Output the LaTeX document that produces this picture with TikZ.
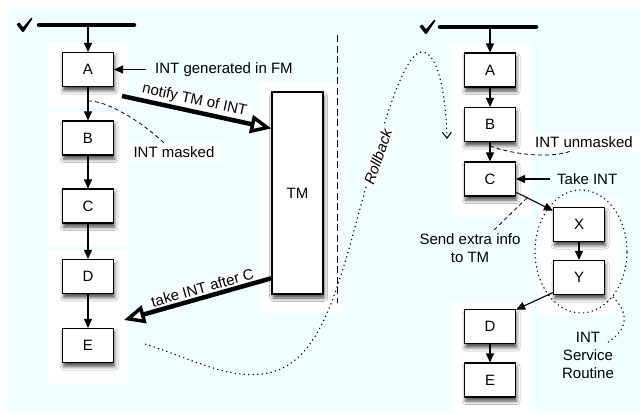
\documentclass[tikz,border=0pt]{standalone}
\usepackage{fontspec}
\setmainfont{Liberation Sans}
\usetikzlibrary{arrows.meta,shadows.blur,shapes.geometric,calc}
\definecolor{sky}{RGB}{240,255,255}
\begin{document}
\begin{tikzpicture}[x=1pt, y=-1pt,
  every node/.style={font=\fontsize{15}{18}\selectfont},
  panel/.style={fill=white, draw=none},
  stepbox/.style={draw=black, fill=white, line width=1.1pt, minimum width=51pt,
    minimum height=34pt, inner sep=0pt,
    blur shadow={shadow xshift=1.2pt, shadow yshift=-4pt,
      shadow blur radius=3.5pt, shadow opacity=70}},
  flow/.style={line width=1.1pt, -{Triangle[length=9pt, width=8pt]}},
  fat/.style={line width=4.5pt},
  openhead/.tip={Triangle[length=21pt, width=18pt, fill=white, line width=3.5pt]},
  dashline/.style={line width=0.8pt, dash pattern=on 4pt off 3pt},
  dotline/.style={line width=1.1pt, dash pattern=on 1.2pt off 3.3pt},
  divider/.style={line width=1pt, dash pattern=on 7pt off 3.5pt},
  bar/.style={line width=4.5pt, line cap=round},
  tag/.style={fill=white, inner xsep=6pt, inner ysep=3pt},
  slopetag/.style={fill=white, inner xsep=3pt, inner ysep=1pt},
  note/.style={inner sep=2pt},
  checkmark/.pic={\fill[rounded corners=0.6pt] (16.5,24.5) -- (19.2,22.3) -- (23,27.3)
      -- (31.4,17.5) -- (32.6,18.6) -- (23.6,32) -- (22.4,32) -- cycle;}
]
\useasboundingbox (0,0) rectangle (640,413);

% backdrop and white panels
\fill[sky] (7,9) rectangle (640,412);
\fill[panel] (48,42) rectangle (127,107);
\fill[panel] (48,112) rectangle (127,245);
\fill[panel] (48,250) rectangle (127,383);
\fill[panel] (258,82) rectangle (340,313);
\fill[panel] (450,44) rectangle (531,217);
\fill[panel] (538,199) rectangle (620,315);
\fill[panel] (450,302) rectangle (531,412);

% divider between the two runs
\draw[divider] (337,35) -- (337,303);

% rollback path
\coordinate (rbs) at (145,344);
\coordinate (rbe) at (447,139);
\draw[dotline, -{Straight Barb[length=6pt, width=9pt, line width=1pt]}]
  (rbs) .. controls (195,360) and (225,378) .. (262,374)
        .. controls (300,370) and (322,335) .. (340,278)
        .. controls (360,220) and (395,52) .. (422,52)
        .. controls (438,52) and (446,95) .. (rbe);
\node[slopetag, inner ysep=2pt, rotate=71] (rbl) at (378,157) {\itshape Rollback};

% first run
\pic at (0,0) {checkmark};
\coordinate (lbarL) at (39,25);
\coordinate (lbarR) at (134,25);
\coordinate (lbarM) at (88,25);
\draw[bar] (lbarL) -- (lbarR);

\node[stepbox] (la) at (88,69.5) {A};
\node[stepbox] (lb) at (88,138) {B};
\node[stepbox] (lc) at (88,206) {C};
\node[stepbox] (ld) at (88,276.5) {D};
\node[stepbox] (le) at (88,345.5) {E};
\node[stepbox, minimum height=202pt] (tm) at (297.5,193) {TM};

\draw[flow] (lbarM) -- (la);
\draw[flow] (la) -- (lb);
\draw[flow] (lb) -- (lc);
\draw[flow] (lc) -- (ld);
\draw[flow] (ld) -- (le);

\node[note, anchor=west, inner xsep=9pt] (gen) at (146,69.5) {INT generated in FM};
\draw[flow] (gen.west) -- (la.east);

\node[tag] (masked) at (174,152) {INT masked};
\coordinate (maskpt) at (88,101);
\draw[dashline] (maskpt) .. controls (105,100) and (140,120) .. (masked.138);

\coordinate (nstart) at (122,96);
\draw[fat, -openhead] (nstart) -- (tm.112)
  node[pos=0.47, sloped, above=1pt, slopetag] (notify) {notify TM of INT};

\coordinate (tend) at (124,320);
\draw[fat, openhead-] (tend) -- (tm.253.5)
  node[pos=0.55, sloped, above=1pt, slopetag] (takeafter) {take INT after C};

% second run
\pic at (403,2) {checkmark};
\coordinate (rbarL) at (440,27);
\coordinate (rbarR) at (536,27);
\coordinate (rbarM) at (490,27);
\draw[bar] (rbarL) -- (rbarR);

\node[stepbox] (ra) at (490,70) {A};
\node[stepbox] (rb) at (490,124.5) {B};
\node[stepbox] (rc) at (490,179) {C};
\node[stepbox] (rx) at (579,224.5) {X};
\node[stepbox] (ry) at (579,277.5) {Y};
\node[stepbox] (rd) at (490,326.5) {D};
\node[stepbox] (re) at (490,380) {E};

\draw[flow] (rbarM) -- (ra);
\draw[flow] (ra) -- (rb);
\draw[flow] (rb) -- (rc);
\draw[flow] (rc.-27) -- (rx.152);
\draw[flow] (rx) -- (ry);
\draw[flow] (ry.210) -- (rd.33);
\draw[flow] (rd) -- (re);

\node[tag, inner xsep=7pt] (unmasked) at (584,142.5) {INT unmasked};
\coordinate (umk) at (490,146);
\draw[dashline] (umk) .. controls (505,152) and (545,160) .. (unmasked.213);

\node[note, anchor=west, inner xsep=7pt] (take) at (550,179) {Take INT};
\draw[flow] (take.west) -- (rc.east);

\node[note, align=center] (send) at (470,248) {Send extra info\\to TM};
\coordinate (sendfrom) at ($(rc.-27)!0.3!(rx.152)$);
\coordinate (sendtip) at (493,231);
\draw[dashline] (sendfrom) -- (sendtip);

\node[draw, ellipse, dotline, minimum width=92pt, minimum height=123pt,
  inner sep=0pt] (isrring) at (581,251.5) {};
\node[note, align=center] (isr) at (588,355) {INT\\Service\\Routine};
\coordinate (isrtip) at (607,343);
\draw[dotline] (isrring.-55) .. controls (628,312) and (630,328) .. (isrtip);
\end{tikzpicture}
\end{document}
